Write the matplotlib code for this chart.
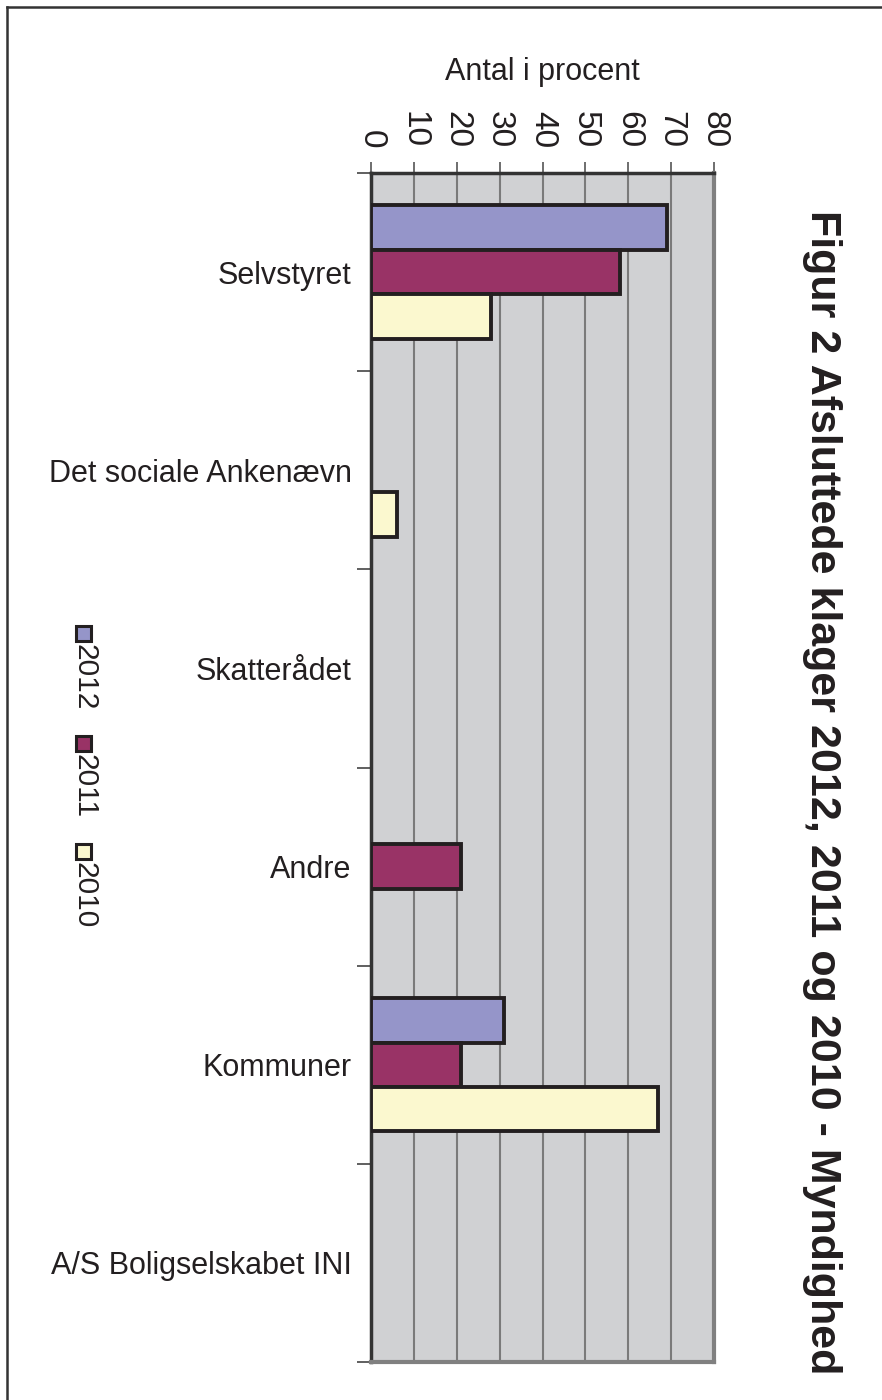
import matplotlib
matplotlib.use("Agg")
import matplotlib.pyplot as plt
import numpy as np
from matplotlib.patches import Rectangle
from matplotlib.lines import Line2D

plt.rcParams['font.family'] = ['Liberation Sans', 'DejaVu Sans']

categories = ["Selvstyret", "Det sociale Ankenævn", "Skatterådet", "Andre", "Kommuner", "A/S Boligselskabet INI"]
series_names = ["2012", "2011", "2010"]
values_2012 = [69, 0, 0, 0, 31, 0]
values_2011 = [58, 0, 0, 21, 21, 0]
values_2010 = [28, 6, 0, 0, 67, 0]
series_values = [values_2012, values_2011, values_2010]
colors = ["#9595c9", "#993366", "#fbf8cf"]
x_ticks = [0, 10, 20, 30, 40, 50, 60, 70, 80]
title = "Figur 2 Afsluttede klager 2012, 2011 og 2010 - Myndighed"
xlabel = "Antal i procent"

W, H = 882, 1400
fig = plt.figure(figsize=(W / 100, H / 100), dpi=100)
ax = fig.add_axes([371 / W, 1 - 1362 / H, (714 - 371) / W, (1362 - 173) / H])
ax.set_facecolor("#d0d1d3")

n = len(categories)
y = np.arange(n)
bh = 0.224
for k, (vals, col) in enumerate(zip(series_values, colors)):
    offs = (k - 1) * bh
    mask = np.array(vals) > 0
    ax.barh(y[mask] + offs, np.array(vals)[mask], height=bh, color=col,
            edgecolor="#231f20", linewidth=2.8, zorder=3)

ax.set_xlim(0, 80)
ax.set_ylim(n - 0.5, -0.5)
ax.xaxis.tick_top()
ax.xaxis.set_label_position("top")
ax.set_xticks(x_ticks)
ax.set_xticklabels([str(t) for t in x_ticks], rotation=-90, fontsize=24, color="#231f20")
ax.tick_params(axis="x", length=8, width=1.2, color="#555555", pad=10)
ax.set_xlabel(xlabel, fontsize=22, color="#231f20", labelpad=22)

ax.set_yticks(np.arange(n + 1) - 0.5)
ax.set_yticklabels([])
ax.set_yticks(y, minor=True)
ax.set_yticklabels(categories, minor=True, fontsize=22, color="#231f20")
ax.tick_params(axis="y", which="major", length=10, width=1.2, color="#444444")
ax.tick_params(axis="y", which="minor", length=0, pad=14)

ax.grid(axis="x", color="#7a7a7a", linewidth=1.5, zorder=1)
ax.set_axisbelow(True)
for side in ["left", "top"]:
    ax.spines[side].set_color("#333333")
    ax.spines[side].set_linewidth(2.5)
for side in ["right", "bottom"]:
    ax.spines[side].set_color("#808080")
    ax.spines[side].set_linewidth(3)

fig.text(822 / W, 1 - 792 / H, title, rotation=-90, ha="center", va="center",
         fontsize=31, fontweight="bold", color="#231f20")

# legend drawn manually (rotated)
leg_y = [633, 743, 851]
for name, col, ly in zip(series_names, colors, leg_y):
    s = 15
    fig.patches.append(Rectangle(((83 - s / 2) / W, 1 - (ly + s / 2) / H), s / W, s / H,
                                 transform=fig.transFigure, facecolor=col,
                                 edgecolor="#231f20", linewidth=2.2))
    fig.text(84 / W, 1 - (ly + 11) / H, name, rotation=-90, ha="center", va="top",
             fontsize=21.5, color="#231f20")

# outer frame (left and top)
fig.add_artist(Line2D([7 / W, 7 / W], [0, 1 - 7 / H], transform=fig.transFigure,
                      color="#333333", linewidth=1.8))
fig.add_artist(Line2D([7 / W, 1], [1 - 7 / H, 1 - 7 / H], transform=fig.transFigure,
                      color="#333333", linewidth=1.8))

fig.savefig("out.png", dpi=100)
